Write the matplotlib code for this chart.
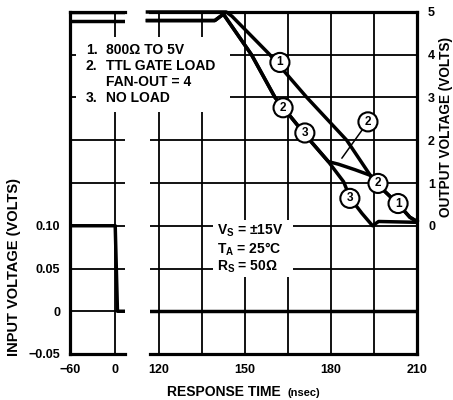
import numpy as np
import matplotlib
matplotlib.use('Agg')
import matplotlib.pyplot as plt
from matplotlib.patches import Rectangle

plt.rcParams['font.family'] = ['Liberation Sans', 'DejaVu Sans']
plt.rcParams['font.weight'] = 'bold'
plt.rcParams['font.size'] = 10
plt.rcParams['mathtext.default'] = 'regular'

# input pulse (volts vs nsec)
t_in_left = [-60, 0, 3, 13]
v_in_left = [0.10, 0.10, 0.0, 0.0]
t_in_right = [116, 210]
v_in_right = [0.0, 0.0]

# output before switching, left panel
t_out_left = [-60, 13]
v_out1_left = [5.0, 5.0]
v_out23_left = [4.8, 4.8]

# output curves, right panel
t_out1 = [116, 143.5, 145.5, 158.7, 171.6, 185.5, 193.7, 196.5, 203.5, 207.5, 210]
v_out1 = [5.0, 5.0, 4.9, 4.0, 3.0, 2.0, 1.18, 0.95, 0.5, 0.2, 0.1]
t_out2 = [116, 139.5, 142.5, 152.3, 160.5, 172.0, 179.1, 182.6, 188.4, 193.7, 196.5, 203.5, 207.5, 210]
v_out2 = [4.8, 4.8, 4.95, 4.0, 3.0, 2.05, 1.5, 1.44, 1.31, 1.18, 0.95, 0.5, 0.2, 0.1]
t_out3 = [116, 139.5, 142.5, 152.3, 160.5, 172.0, 179.1, 184.4, 186.7, 190.8, 194.5, 196.6, 210]
v_out3 = [4.8, 4.8, 4.95, 4.0, 3.0, 2.05, 1.5, 1.03, 0.65, 0.29, 0.0, 0.1, 0.08]

# circled curve numbers
lbl_txt = ['1', '2', '3', '2', '2', '3', '1']
lbl_t = [162.2, 163.3, 170.9, 192.9, 196.4, 186.6, 203.4]
lbl_v = [3.82, 2.76, 2.17, 2.43, 0.99, 0.64, 0.52]
lead_t = [None, None, None, 183.8, None, None, None]
lead_v = [None, None, None, 1.58, None, None, None]

in_ticks = np.arange(-0.05, 0.351, 0.05)
in_labels = ['\u22120.05', '0', '0.05', '0.10', '', '', '', '', '']
out_ticks = np.arange(-3, 6)
out_labels = ['', '', '', '0', '1', '2', '3', '4', '5']

W, H = 453, 400
fig = plt.figure(figsize=(W / 100, H / 100), dpi=100)
axL = fig.add_axes([70 / W, 46 / H, 55 / W, 342 / H])
axR = fig.add_axes([150 / W, 46 / H, 267 / W, 342 / H])
axLo = axL.twinx()
axRo = axR.twinx()

grid_kw = dict(color='black', lw=1.3)
for ax in (axL, axR):
    ax.set_ylim(-0.05, 0.35)
    ax.set_yticks(in_ticks)
    ax.grid(True, **grid_kw)
    ax.tick_params(length=0, pad=7, labelsize=9)
for ax in (axLo, axRo):
    ax.set_ylim(-3, 5)
    for s in ax.spines.values():
        s.set_visible(False)
    ax.tick_params(length=0)

axL.set_xlim(-60, 13)
axL.set_xticks([-60, 0])
axL.set_xticklabels(['\u221260', '0'])
axL.set_yticklabels(in_labels)
axL.spines['right'].set_visible(False)
for s in ('left', 'top', 'bottom'):
    axL.spines[s].set_linewidth(2.3)
axLo.set_yticks([])

axR.set_xlim(116.9, 210)
axR.set_xticks([120, 135, 150, 165, 180, 195, 210])
axR.set_xticklabels(['120', '', '150', '', '180', '', '210'])
axR.set_yticklabels([])
axR.spines['left'].set_visible(False)
for s in ('right', 'top', 'bottom'):
    axR.spines[s].set_linewidth(2.3)
axRo.set_yticks(out_ticks)
axRo.set_yticklabels(out_labels)
axRo.tick_params(pad=8, labelsize=9)

lw = 2.5
axL.plot(t_in_left, v_in_left, color='black', lw=lw, solid_capstyle='butt')
axR.plot(t_in_right, v_in_right, color='black', lw=lw, solid_capstyle='butt')
axLo.plot(t_out_left, v_out1_left, color='black', lw=lw, solid_capstyle='butt')
axLo.plot(t_out_left, v_out23_left, color='black', lw=lw, solid_capstyle='butt')
for t, v in ((t_out1, v_out1), (t_out2, v_out2), (t_out3, v_out3)):
    axRo.plot(t, v, color='black', lw=lw, solid_joinstyle='round', clip_on=False)

for txt, t, v, lt, lv in zip(lbl_txt, lbl_t, lbl_v, lead_t, lead_v):
    box = dict(boxstyle='circle,pad=0.3', fc='white', ec='black', lw=1.5)
    if lt is None:
        axRo.text(t, v, txt, ha='center', va='center', fontsize=8.5, bbox=box, zorder=5)
    else:
        axRo.annotate(txt, xy=(lt, lv), xytext=(t, v), ha='center', va='center',
                      fontsize=8.5, bbox=box, zorder=5,
                      arrowprops=dict(arrowstyle='-', color='black', lw=1.1, shrinkA=0, shrinkB=0))

# legend block and test conditions (white masks hide the grid)
fig.add_artist(Rectangle((76 / W, 1 - 112 / H), 154 / W, 75 / H, transform=fig.transFigure,
                         fc='white', ec='none', zorder=3))
fig.add_artist(Rectangle((213 / W, 1 - 277 / H), 80 / W, 57 / H, transform=fig.transFigure,
                         fc='white', ec='none', zorder=3))
for y, num, body in ((50, '1.', '800\u03a9 TO 5V'), (66, '2.', 'TTL GATE LOAD'),
                     (82, '', 'FAN-OUT = 4'), (98, '3.', 'NO LOAD')):
    if num:
        fig.text(86 / W, 1 - y / H, num, ha='left', va='center', zorder=4)
    fig.text(106 / W, 1 - y / H, body, ha='left', va='center', zorder=4)
for y, s in ((231, 'V$_S$ = \u00b115V'), (249, 'T$_A$ = 25\u00b0C'), (267, 'R$_S$ = 50\u03a9')):
    fig.text(217 / W, 1 - y / H, s, ha='left', va='center', zorder=4)

fig.text(14 / W, 1 - 267 / H, 'INPUT VOLTAGE (VOLTS)', rotation=90, ha='center', va='center',
         fontsize=10.5)
fig.text(446 / W, 1 - 127 / H, 'OUTPUT VOLTAGE (VOLTS)', rotation=90, ha='center', va='center',
         fontsize=9.8)
fig.text(167 / W, 1 - 392 / H, 'RESPONSE TIME', ha='left', va='center')
fig.text(288 / W, 1 - 393 / H, '(nsec)', ha='left', va='center', fontsize=8)

fig.savefig('out.png', dpi=100)
